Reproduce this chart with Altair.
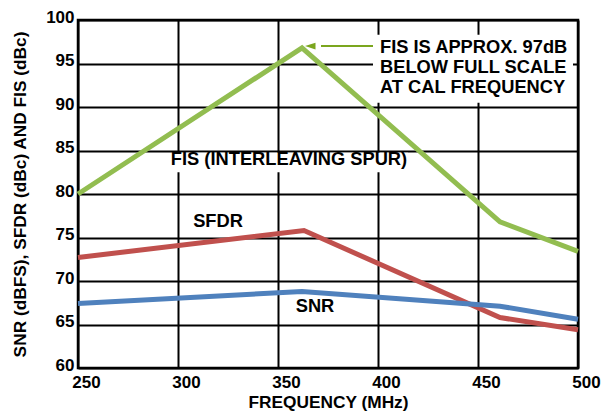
import altair as alt
import pandas as pd

# Data
fis_x = [250, 362, 461, 500]
fis_y = [80.0, 96.8, 76.8, 73.4]
sfdr_x = [250, 363, 461, 500]
sfdr_y = [72.7, 75.8, 65.8, 64.4]
snr_x = [250, 362, 461, 500]
snr_y = [67.4, 68.8, 67.1, 65.6]

x_ticks = [250, 300, 350, 400, 450, 500]
y_ticks = [60, 65, 70, 75, 80, 85, 90, 95, 100]

series_names = ["FIS", "SFDR", "SNR"]
series_colors = ["#92BD50", "#C0504D", "#4F81BD"]

label_text = ["FIS (INTERLEAVING SPUR)", "SFDR", "SNR"]
label_x = [355.5, 320, 368.5]
label_y = [83.9, 76.8, 67.0]

annot_lines = ["FIS IS APPROX. 97dB", "BELOW FULL SCALE", "AT CAL FREQUENCY"]
annot_x = 401
annot_y = [96.78, 94.48, 92.18]

arrow_tip_x = 363.5
arrow_tail_x = 397.5
arrow_y = 97.0

FONT = "Liberation Sans"

rows = []
for name, xs, ys in [("FIS", fis_x, fis_y), ("SFDR", sfdr_x, sfdr_y), ("SNR", snr_x, snr_y)]:
    for i, (a, b) in enumerate(zip(xs, ys)):
        rows.append({"series": name, "freq": a, "val": b, "order": i})
df = pd.DataFrame(rows)

xscale = alt.Scale(domain=[250, 500], nice=False, zero=False)
yscale = alt.Scale(domain=[60, 100], nice=False, zero=False)

xaxis = alt.Axis(values=x_ticks, title="FREQUENCY (MHz)", grid=True, gridColor="black",
                 gridWidth=2, gridOpacity=1, domain=False, ticks=False,
                 labelFont=FONT, labelFontSize=17, labelFontWeight="bold", labelColor="black",
                 labelPadding=6, labelOffset=8, titleFont=FONT, titleFontSize=17.3,
                 titleFontWeight="bold", titleColor="black", titlePadding=3, labelFlush=False)
yaxis = alt.Axis(values=y_ticks, title="SNR (dBFS), SFDR (dBc) AND FIS (dBc)", grid=True,
                 gridColor="black", gridWidth=2, gridOpacity=1, domain=False, ticks=False,
                 labelFont=FONT, labelFontSize=17, labelFontWeight="bold", labelColor="black",
                 labelPadding=4, labelOffset=-3, titleFont=FONT, titleFontSize=17.3,
                 titleFontWeight="bold", titleColor="black", titlePadding=16, labelFlush=False)

base = alt.Chart(df)

grid = base.mark_point(opacity=0).encode(
    x=alt.X("freq:Q", scale=xscale, axis=xaxis),
    y=alt.Y("val:Q", scale=yscale, axis=yaxis),
)

# white boxes behind annotations
box_df = pd.DataFrame({
    "x1": [297.0, 397.5], "x2": [415.0, 497.5],
    "y1": [84.75, 98.3], "y2": [82.5, 90.5],
})
boxes = alt.Chart(box_df).mark_rect(color="white").encode(
    x=alt.X("x1:Q", scale=xscale), x2="x2:Q",
    y=alt.Y("y1:Q", scale=yscale), y2="y2:Q",
)

lines = base.mark_line(strokeWidth=5, strokeJoin="miter").encode(
    x=alt.X("freq:Q", scale=xscale),
    y=alt.Y("val:Q", scale=yscale),
    color=alt.Color("series:N", scale=alt.Scale(domain=series_names, range=series_colors), legend=None),
    order="order:Q",
)

lab_df = pd.DataFrame({"t": label_text, "x": label_x, "y": label_y})
labels = alt.Chart(lab_df).mark_text(font=FONT, fontSize=18.3, fontWeight="bold", color="black",
                                     align="center", baseline="middle").encode(
    x=alt.X("x:Q", scale=xscale), y=alt.Y("y:Q", scale=yscale), text="t:N")

ann_df = pd.DataFrame({"t": annot_lines, "x": [annot_x] * 3, "y": annot_y})
annot = alt.Chart(ann_df).mark_text(font=FONT, fontSize=18.3, fontWeight="bold", color="black",
                                    align="left", baseline="middle").encode(
    x=alt.X("x:Q", scale=xscale), y=alt.Y("y:Q", scale=yscale), text="t:N")

arr_df = pd.DataFrame({"x": [arrow_tip_x + 8], "x2": [arrow_tail_x], "y": [arrow_y]})
shaft = alt.Chart(arr_df).mark_rule(color="#7BA61E", strokeWidth=2).encode(
    x=alt.X("x:Q", scale=xscale), x2="x2:Q", y=alt.Y("y:Q", scale=yscale))
head_df = pd.DataFrame({"x": [arrow_tip_x], "y": [arrow_y]})
head = alt.Chart(head_df).mark_point(shape="M 0 0 L 2 -0.65 L 2 0.65 Z", size=110, filled=True,
                                     color="#7BA61E", opacity=1).encode(
    x=alt.X("x:Q", scale=xscale), y=alt.Y("y:Q", scale=yscale))

frame = alt.Chart(pd.DataFrame({"a": [250], "b": [500], "c": [60], "d": [100]})).mark_rect(
    fill=None, stroke="black", strokeWidth=2.5).encode(
    x=alt.X("a:Q", scale=xscale), x2="b:Q", y=alt.Y("c:Q", scale=yscale), y2="d:Q")

chart = alt.layer(grid, boxes, frame, lines, labels, annot, shaft, head).properties(
    width=500, height=348,
    autosize=alt.AutoSizeParams(type="none"),
    padding={"left": 70, "top": 12, "right": 26, "bottom": 50},
).configure_view(stroke=None).configure(background="white")

chart.save("out.html", embed_options={"renderer": "svg", "actions": False})
